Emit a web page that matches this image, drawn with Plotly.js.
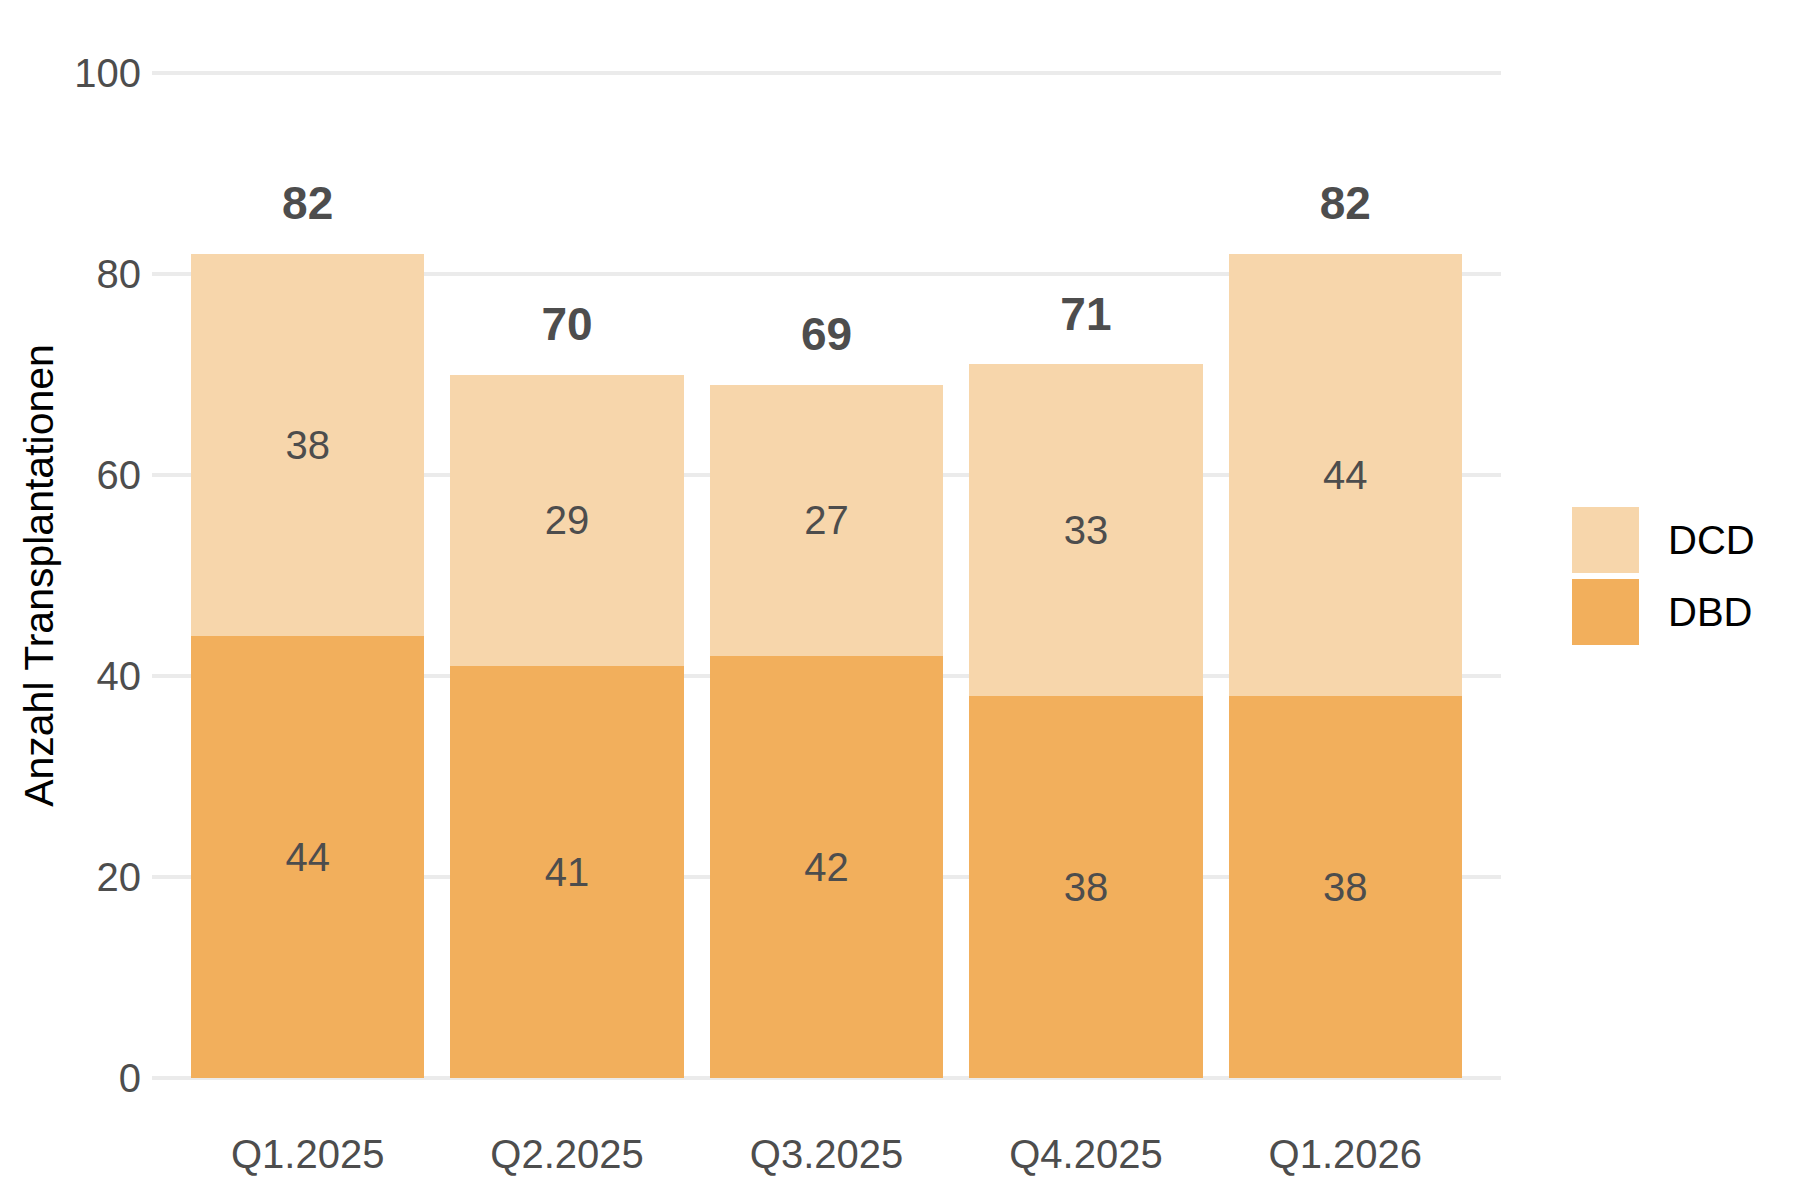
<!DOCTYPE html>
<html>
<head>
<meta charset="utf-8">
<script src="https://cdn.plot.ly/plotly-3.0.1.min.js"></script>
<style>html,body{margin:0;padding:0;background:#fff;}</style>
</head>
<body>
<div id="chart" style="width:1800px;height:1200px;"></div>
<script>
// ---- data ----
const quarters = ['Q1.2025', 'Q2.2025', 'Q3.2025', 'Q4.2025', 'Q1.2026'];
const dbdValues = [44, 41, 42, 38, 38];
const dcdValues = [38, 29, 27, 33, 44];
const yTickValues = [0, 20, 40, 60, 80, 100];
const seriesNames = ['DCD', 'DBD'];
const seriesColors = {DBD: '#F2AF5C', DCD: '#F7D6AB'};

// ---- layout constants ----
const W = 1800, H = 1200;
const M = {l: 152, r: 299, t: 69, b: 118};
const FONT = 'Liberation Sans, Arial, sans-serif';
const GREY = '#4d4d4d';
const totalOffset = 4.6;

const totals = quarters.map((q, i) => dbdValues[i] + dcdValues[i]);

const barCommon = {
  type: 'bar',
  x: quarters,
  textposition: 'inside',
  insidetextanchor: 'middle',
  constraintext: 'none',
  textangle: 0,
  textfont: {family: FONT, size: 40, color: GREY},
  hoverinfo: 'x+y+name',
  showlegend: false,
  marker: {line: {width: 0}}
};

const traces = [
  Object.assign({}, barCommon, {
    name: 'DBD', y: dbdValues, text: dbdValues.map(String),
    marker: {color: seriesColors.DBD, line: {width: 0}}
  }),
  Object.assign({}, barCommon, {
    name: 'DCD', y: dcdValues, text: dcdValues.map(String),
    marker: {color: seriesColors.DCD, line: {width: 0}}
  }),
  {
    type: 'scatter', mode: 'text', x: quarters,
    y: totals.map(t => t + totalOffset),
    text: totals.map(String),
    textposition: 'middle center',
    textfont: {family: FONT, size: 46, color: GREY, weight: 'bold'},
    hoverinfo: 'skip', showlegend: false, cliponaxis: false
  }
];

// ---- custom legend (ggplot-style large keys) ----
const plotW = W - M.l - M.r, plotH = H - M.t - M.b;
const px2x = px => (px - M.l) / plotW;
const py2y = py => (H - M.b - py) / plotH;
const keyLeft = 1572, keySize = 66, keyTop0 = 507, keyGap = 72, textLeft = 1666;
const shapes = [], annotations = [];
seriesNames.forEach((name, i) => {
  const top = keyTop0 + i * keyGap;
  shapes.push({
    type: 'rect', xref: 'paper', yref: 'paper',
    x0: px2x(keyLeft), x1: px2x(keyLeft + keySize + 1),
    y0: py2y(top + keySize), y1: py2y(top),
    fillcolor: seriesColors[name], line: {width: 0}
  });
  annotations.push({
    xref: 'paper', yref: 'paper', x: px2x(textLeft), y: py2y(top + keySize / 2),
    xanchor: 'left', yanchor: 'middle', showarrow: false, text: name,
    font: {family: FONT, size: 40, color: '#000000'}
  });
});

const layout = {
  width: W, height: H,
  margin: M,
  paper_bgcolor: '#ffffff', plot_bgcolor: '#ffffff',
  barmode: 'stack', bargap: 0.1,
  showlegend: false,
  font: {family: FONT},
  xaxis: {
    type: 'category', range: [-0.6, quarters.length - 0.4],
    showgrid: false, zeroline: false, showline: false, ticks: '',
    tickfont: {family: FONT, size: 40, color: GREY},
    ticklabelstandoff: 45
  },
  yaxis: {
    range: [-0.4, 100.4], tickvals: yTickValues, ticktext: yTickValues.map(String),
    showgrid: true, gridcolor: '#EBEBEB', gridwidth: 4,
    zeroline: false, showline: false, ticks: '',
    tickfont: {family: FONT, size: 40, color: GREY},
    ticklabelstandoff: 10,
    title: {text: 'Anzahl Transplantationen', font: {family: FONT, size: 41, color: '#000000'}, standoff: 7}
  },
  shapes: shapes,
  annotations: annotations
};

Plotly.newPlot('chart', traces, layout, {displayModeBar: false, staticPlot: true});
</script>
</body>
</html>
